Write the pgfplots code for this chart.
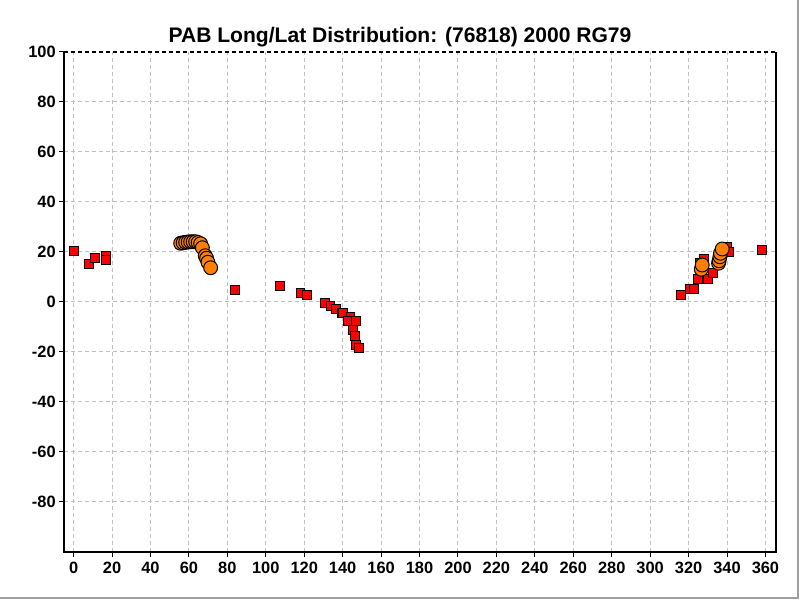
\documentclass[border=0pt]{standalone}
\usepackage{fontspec}
\setmainfont{Liberation Sans}
\usepackage{pgfplots}
\pgfplotsset{compat=1.18}
\definecolor{redsq}{RGB}{255,0,0}
\definecolor{orangec}{RGB}{255,128,0}
\definecolor{gridg}{RGB}{192,192,192}
\definecolor{frameg}{RGB}{160,160,160}
\begin{document}
\begin{tikzpicture}
\path[use as bounding box, fill=white] (-48bp,-36bp) rectangle (552bp,414bp);
\draw[frameg, line width=1.2bp] (550.5bp,414bp) -- (550.5bp,-34.5bp) -- (-48bp,-34.5bp);
\begin{axis}[
  at={(0,0)}, anchor=south west,
  scale only axis, width=534bp, height=375bp,
  xmin=-5, xmax=365.5, ymin=-100, ymax=100,
  xtick={0,20,...,360}, ytick={-80,-60,...,100},
  xtick pos=left, ytick pos=left,
  tick align=outside, major tick length=3.75bp,
  tick style={black, line width=0.75bp},
  axis line style={draw=none},
  grid=major,
  major grid style={gridg, line width=0.75bp, dash pattern=on 3bp off 2.25bp},
  tick label style={font=\fontsize{12.3bp}{14bp}\selectfont\bfseries},
  /pgf/number format/assume math mode=true,
  xticklabel style={yshift=-0.5bp},
  yticklabel style={xshift=1bp},
  clip=false,
]
\addplot[only marks, mark=square*, mark size=3.3bp,
  mark options={fill=redsq, draw=black, line width=0.75bp}] coordinates {
(0,20.5) (8.2,15.1) (11.1,17.5) (17,18.5) (17,16.7) (83.9,4.7)
(107.3,6.3) (118.1,3.5) (121.4,2.7) (130.8,-0.5) (133.7,-1.6) (136.5,-2.9)
(139.4,-4.3) (140.1,-4.5) (144.1,-6.1) (142.7,-7.6) (146.9,-7.7) (145.3,-11.3)
(146.4,-13.7) (146.9,-17.3) (148.4,-18.5)
(316.2,2.7) (320.7,5.1) (322.7,5.1) (325,9.1) (330,9.1) (332.6,11.5)
(328,17.1) (326,15.5) (340,22.1) (341.3,19.9) (358.1,20.7)
};
\addplot[only marks, mark=*, mark size=5.2bp,
  mark options={fill=orangec, draw=black, line width=0.75bp}] coordinates {
(55.7,23.5) (57,23.7) (58.3,23.9) (59.6,24) (60.9,24.1) (62.2,24.1)
(63.5,24.1) (64.8,23.8) (66.1,23.3) (67,21.7) (68.5,18.5) (69.2,17.5)
(69.9,15.9) (71.3,13.7)
(326.6,13.1) (327.1,14.8)
(335.6,15.5) (335.9,16.5) (336.3,18.1) (336.6,19.5) (337.5,21.2)
};
\draw[black, line width=0.9bp] (rel axis cs:0,1) -- (rel axis cs:0,0) -- (rel axis cs:1,0) -- (rel axis cs:1,1);
\draw[black, line width=0.9bp, dash pattern=on 3bp off 2.25bp] (rel axis cs:0,1) -- (rel axis cs:1,1);
\end{axis}
\node[anchor=base, font=\fontsize{15.8bp}{18bp}\selectfont\bfseries, inner sep=0pt] at (252bp,382bp) {PAB Long/Lat Distribution: (76818) 2000 RG79};
\end{tikzpicture}
\end{document}
